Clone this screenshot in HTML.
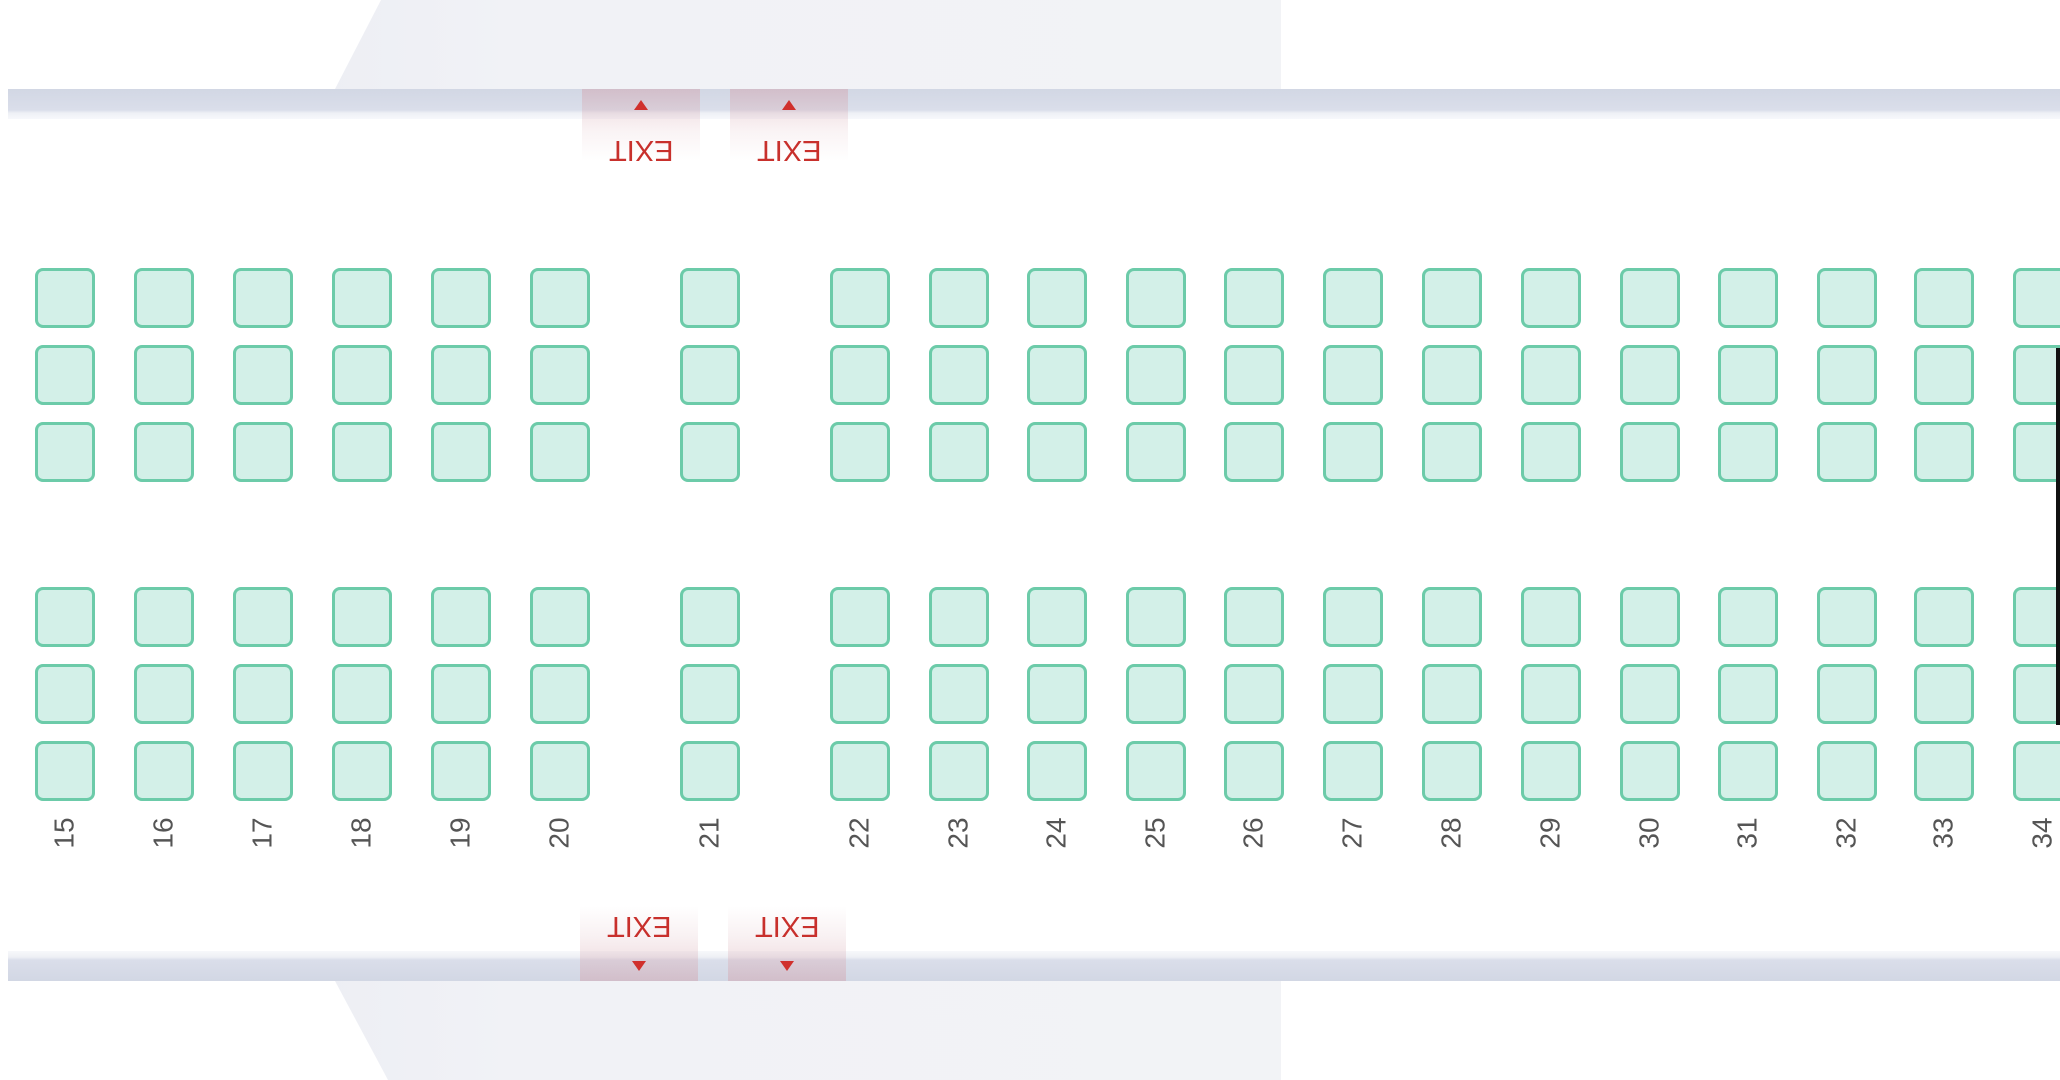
<!DOCTYPE html>
<html><head><meta charset="utf-8"><style>
*{margin:0;padding:0;box-sizing:border-box}
body{width:2060px;height:1080px;background:#fff;position:relative;overflow:hidden;font-family:"Liberation Sans",sans-serif}
.abs{position:absolute}
.wingT{left:0;top:0;width:1281px;height:89px;background:linear-gradient(90deg,#e6e8f1,#f1f2f6 40%,#f2f3f6);clip-path:polygon(381px 0,1281px 0,1281px 89px,335px 89px)}
.wingB{left:0;top:981px;width:1281px;height:99px;background:linear-gradient(90deg,#e6e8f1,#f1f2f6 40%,#f2f3f6);clip-path:polygon(335px 0,1281px 0,1281px 99px,388px 99px)}
.barT{left:8px;top:89px;width:2052px;height:30px;background:linear-gradient(#d2d7e4,#dadeea 70%,#eef0f5 80%,#f7f8fb)}
.barB{left:8px;top:951px;width:2052px;height:30px;background:linear-gradient(#f7f8fb,#eef0f5 20%,#dadeea 30%,#d2d7e4)}
.exT{top:89px;width:118px;height:72px;background:linear-gradient(rgba(210,160,170,.45),rgba(230,200,205,.2) 60%,rgba(255,255,255,0))}
.exB{top:906px;width:118px;height:75px;background:linear-gradient(rgba(255,255,255,0),rgba(230,200,205,.25) 40%,rgba(210,160,170,.45))}
.ex{text-align:center;color:#c8302c;font-size:29px;line-height:1}
.ex .t{display:inline-block;transform:rotate(180deg)}
.triU,.triD{position:absolute;left:52px;width:0;height:0;border-left:7px solid transparent;border-right:7px solid transparent}
.triU{top:11px;border-bottom:10px solid #d0302c}
.triD{bottom:10px;border-top:10px solid #d0302c}
.col{position:absolute;top:268px;width:60px}
.s{width:60px;height:60px;background:#d3f0e8;border:3px solid #6ccba9;border-radius:8px;margin-bottom:17px}
.s.g{margin-bottom:105px}
.n{position:absolute;left:0;top:540px;width:60px;height:50px;display:flex;align-items:center;justify-content:center}
.n span{display:block;transform:rotate(-90deg);font-size:28px;color:#555}
</style></head><body>
<div class="abs wingT"></div>
<div class="abs wingB"></div>
<div class="abs barT"></div>
<div class="abs barB"></div>

<div class="abs exT" style="left:582px"><div class="triU"></div><div class="ex" style="margin-top:46px"><span class="t">EXIT</span></div></div>
<div class="abs exT" style="left:730px"><div class="triU"></div><div class="ex" style="margin-top:46px"><span class="t">EXIT</span></div></div>
<div class="abs exB" style="left:580px"><div class="ex" style="margin-top:5px"><span class="t">EXIT</span></div><div class="triD"></div></div>
<div class="abs exB" style="left:728px"><div class="ex" style="margin-top:5px"><span class="t">EXIT</span></div><div class="triD"></div></div>

<div class="col" style="left:35px"><div class="s"></div><div class="s"></div><div class="s g"></div><div class="s"></div><div class="s"></div><div class="s"></div><div class="n"><span>15</span></div></div>
<div class="col" style="left:134px"><div class="s"></div><div class="s"></div><div class="s g"></div><div class="s"></div><div class="s"></div><div class="s"></div><div class="n"><span>16</span></div></div>
<div class="col" style="left:233px"><div class="s"></div><div class="s"></div><div class="s g"></div><div class="s"></div><div class="s"></div><div class="s"></div><div class="n"><span>17</span></div></div>
<div class="col" style="left:332px"><div class="s"></div><div class="s"></div><div class="s g"></div><div class="s"></div><div class="s"></div><div class="s"></div><div class="n"><span>18</span></div></div>
<div class="col" style="left:431px"><div class="s"></div><div class="s"></div><div class="s g"></div><div class="s"></div><div class="s"></div><div class="s"></div><div class="n"><span>19</span></div></div>
<div class="col" style="left:530px"><div class="s"></div><div class="s"></div><div class="s g"></div><div class="s"></div><div class="s"></div><div class="s"></div><div class="n"><span>20</span></div></div>
<div class="col" style="left:680px"><div class="s"></div><div class="s"></div><div class="s g"></div><div class="s"></div><div class="s"></div><div class="s"></div><div class="n"><span>21</span></div></div>
<div class="col" style="left:830px"><div class="s"></div><div class="s"></div><div class="s g"></div><div class="s"></div><div class="s"></div><div class="s"></div><div class="n"><span>22</span></div></div>
<div class="col" style="left:929px"><div class="s"></div><div class="s"></div><div class="s g"></div><div class="s"></div><div class="s"></div><div class="s"></div><div class="n"><span>23</span></div></div>
<div class="col" style="left:1027px"><div class="s"></div><div class="s"></div><div class="s g"></div><div class="s"></div><div class="s"></div><div class="s"></div><div class="n"><span>24</span></div></div>
<div class="col" style="left:1126px"><div class="s"></div><div class="s"></div><div class="s g"></div><div class="s"></div><div class="s"></div><div class="s"></div><div class="n"><span>25</span></div></div>
<div class="col" style="left:1224px"><div class="s"></div><div class="s"></div><div class="s g"></div><div class="s"></div><div class="s"></div><div class="s"></div><div class="n"><span>26</span></div></div>
<div class="col" style="left:1323px"><div class="s"></div><div class="s"></div><div class="s g"></div><div class="s"></div><div class="s"></div><div class="s"></div><div class="n"><span>27</span></div></div>
<div class="col" style="left:1422px"><div class="s"></div><div class="s"></div><div class="s g"></div><div class="s"></div><div class="s"></div><div class="s"></div><div class="n"><span>28</span></div></div>
<div class="col" style="left:1521px"><div class="s"></div><div class="s"></div><div class="s g"></div><div class="s"></div><div class="s"></div><div class="s"></div><div class="n"><span>29</span></div></div>
<div class="col" style="left:1620px"><div class="s"></div><div class="s"></div><div class="s g"></div><div class="s"></div><div class="s"></div><div class="s"></div><div class="n"><span>30</span></div></div>
<div class="col" style="left:1718px"><div class="s"></div><div class="s"></div><div class="s g"></div><div class="s"></div><div class="s"></div><div class="s"></div><div class="n"><span>31</span></div></div>
<div class="col" style="left:1817px"><div class="s"></div><div class="s"></div><div class="s g"></div><div class="s"></div><div class="s"></div><div class="s"></div><div class="n"><span>32</span></div></div>
<div class="col" style="left:1914px"><div class="s"></div><div class="s"></div><div class="s g"></div><div class="s"></div><div class="s"></div><div class="s"></div><div class="n"><span>33</span></div></div>
<div class="col" style="left:2013px"><div class="s"></div><div class="s"></div><div class="s g"></div><div class="s"></div><div class="s"></div><div class="s"></div><div class="n"><span>34</span></div></div>

<div class="abs" style="left:2056px;top:348px;width:4px;height:377px;background:#111"></div>
</body></html>
